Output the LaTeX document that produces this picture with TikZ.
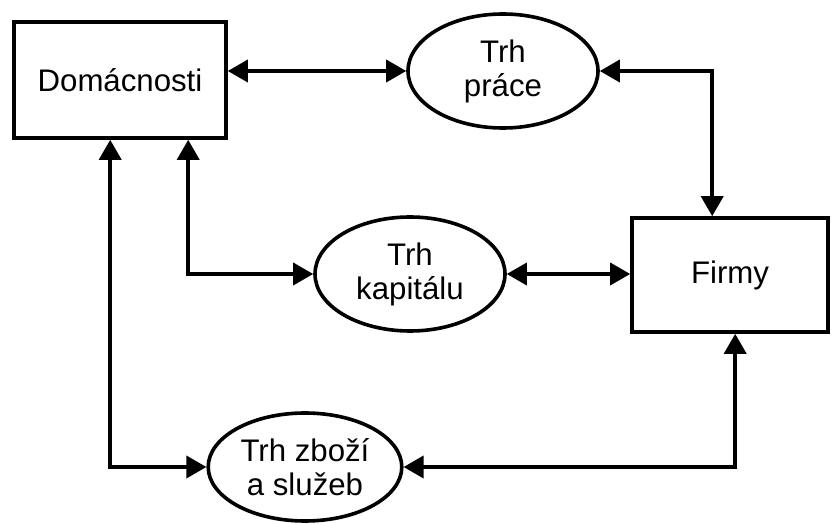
\documentclass[tikz,border=0pt]{standalone}
\usepackage{fontspec}
\setmainfont{Liberation Sans}
\usetikzlibrary{arrows.meta,shapes.geometric}

\begin{document}
\begin{tikzpicture}[
  x=0.5pt, y=-0.5pt,
  every node/.style={draw, line width=1.8pt, align=center,
                     font=\fontsize{15.6}{17}\selectfont, inner sep=2pt},
  box/.style={rectangle},
  mkt/.style={ellipse},
  arr/.style={{Triangle[length=10pt,width=11pt]}-{Triangle[length=10pt,width=11pt]},
              line width=1.8pt}
]
\useasboundingbox (0,0) rectangle (832,524);

\node (dom)   [box, minimum width=106pt, minimum height=58pt] at (120,80)  {Domácnosti};
\node (firmy) [box, minimum width=98pt, minimum height=57pt]  at (730,275) {Firmy};
\node (prace) [mkt, minimum width=95pt, minimum height=57pt]  at (503,71)  {Trh\\ práce};
\node (kap)   [mkt, minimum width=95pt, minimum height=57pt]  at (410,274) {Trh\\ kapitálu};
\node (zbozi) [mkt, minimum width=94pt, minimum height=54pt]  at (305,467) {Trh zboží\\ a služeb};

\draw[arr] (prace.west -| dom.east) -- (prace.west);
\draw[arr] (prace.east) -| ([xshift=41pt]firmy.north west);
\draw[arr] (kap.east) -- (kap.east -| firmy.west);
\draw[arr] ([xshift=88pt]dom.south west) |- (kap.west);
\draw[arr] ([xshift=49pt]dom.south west) |- (zbozi.west);
\draw[arr] (zbozi.east) -| ([xshift=52.5pt]firmy.south west);
\end{tikzpicture}
\end{document}
